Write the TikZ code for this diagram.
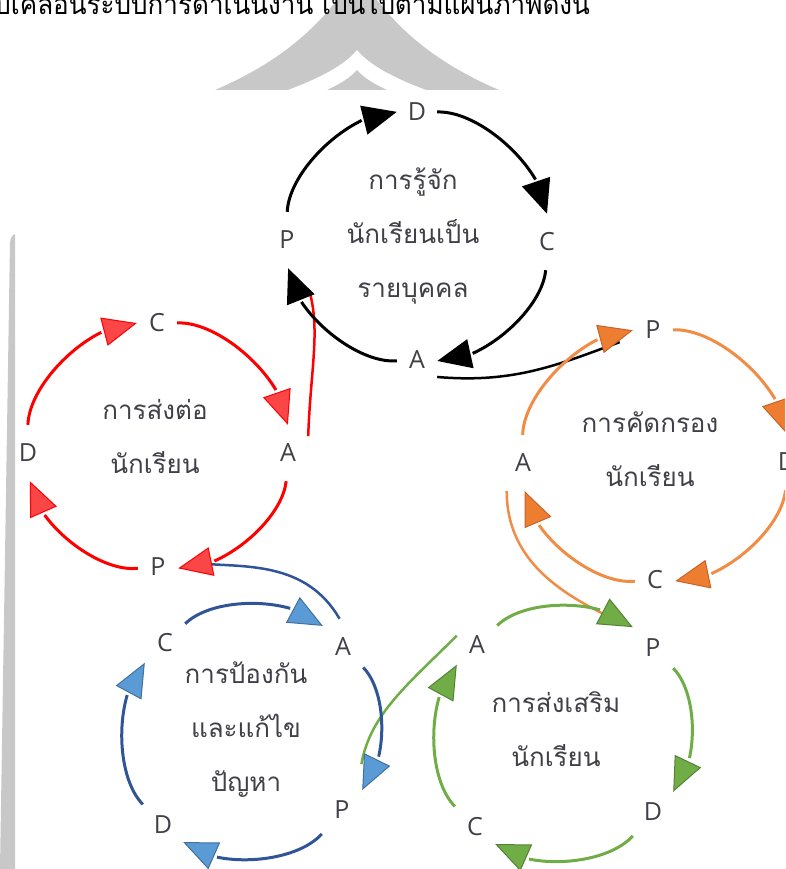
\documentclass[tikz,border=0pt]{standalone}
\usepackage{fontspec}
\usetikzlibrary{arrows.meta,bending}
\newfontfamily\thaifont[Script=Thai]{Loma}
\newfontfamily\pdcafont{Open Sans}
\definecolor{txtgray}{RGB}{64,64,72}
\definecolor{markgray}{RGB}{200,200,200}
\definecolor{redline}{RGB}{255,0,0}
\definecolor{redfill}{RGB}{250,70,70}
\definecolor{orgline}{RGB}{240,140,70}
\definecolor{orgfill}{RGB}{237,125,49}
\definecolor{orgedge}{RGB}{200,100,40}
\definecolor{grnline}{RGB}{112,173,71}
\definecolor{grnfill}{RGB}{112,173,71}
\definecolor{grnedge}{RGB}{84,130,53}
\definecolor{bluline}{RGB}{47,85,151}
\definecolor{blufill}{RGB}{91,155,213}
\definecolor{bluedge}{RGB}{65,113,156}
\tikzset{
  stage/.style={rectangle, minimum width=40pt, minimum height=56pt, inner sep=0pt,
    text=txtgray, font=\pdcafont\fontsize{25}{25}\selectfont},
  topic/.style={align=center, text=txtgray,
    font=\thaifont\fontsize{26}{54}\selectfont},
  turn/.style={bend left=45, looseness=0.75},
  kcyc/.style={line width=3pt, draw=black, -{Triangle[length=34pt,width=29pt]}},
  rcyc/.style={line width=3pt, draw=redline,
    -{Triangle[length=34pt,width=29pt,fill=redfill,line width=1pt]}},
  ocyc/.style={line width=3pt, draw=orgline,
    -{Triangle[length=34pt,width=29pt,color=orgedge,fill=orgfill,line width=1pt]}},
  gcyc/.style={line width=3pt, draw=grnline,
    -{Triangle[length=34pt,width=29pt,color=grnedge,fill=grnfill,line width=1pt]}},
  vcyc/.style={line width=3pt, draw=bluline,
    -{Triangle[length=34pt,width=29pt,color=bluedge,fill=blufill,line width=1pt]}},
  link/.style={line width=2.5pt}
}
\begin{document}
\begin{tikzpicture}[x=1pt, y=1pt]
    \path[use as bounding box] (0,0) rectangle (785,-869);
    \clip (0,0) rectangle (785,-869);

    % Draw the watermark and the side bar
    \fill[markgray] (215,-90) .. controls (280,-62) and (325,-25) .. (357,30)
      .. controls (389,-25) and (434,-62) .. (499,-90) -- cycle;
    \fill[white] (288,-90) .. controls (320,-78) and (345,-65) .. (357,-50)
      .. controls (369,-65) and (394,-78) .. (426,-90) -- cycle;
    \fill[markgray] (327,-90) .. controls (340,-84) and (350,-78) .. (357,-70)
      .. controls (364,-78) and (374,-84) .. (387,-90) -- cycle;
    \fill[markgray] (10,-242) .. controls (10,-236) and (15,-234) .. (15,-234)
      -- (15,-869) -- (0,-869) -- cycle;

    % Intro line, cut at the top
    \node[anchor=base east, inner sep=0pt, text=black,
      font=\thaifont\fontsize{28}{30}\selectfont] (intro) at (590,-15)
      {\scalebox{0.93}[1]{ขับเคลื่อนระบบการดำเนินงาน เป็นไปตามแผนภาพดังนี้}};

    % Stage letters
    \node[stage] (knowD) at (417,-112) {D};
    \node[stage] (knowC) at (547,-242) {C};
    \node[stage] (knowA) at (417,-360) {A};
    \node[stage] (knowP) at (287,-240) {P};

    \node[stage] (refC) at (157,-323) {C};
    \node[stage] (refA) at (288,-453) {A};
    \node[stage] (refP) at (158,-567) {P};
    \node[stage] (refD) at (28,-453) {D};

    \node[stage] (scrP) at (653,-330) {P};
    \node[stage] (scrD) at (787,-462) {D};
    \node[stage] (scrC) at (655,-580) {C};
    \node[stage] (scrA) at (523,-463) {A};

    \node[stage] (preC) at (165,-643) {C};
    \node[stage] (preA) at (343,-647) {A};
    \node[stage] (preP) at (342,-810) {P};
    \node[stage] (preD) at (163,-825) {D};

    \node[stage] (proA) at (477,-645) {A};
    \node[stage] (proP) at (653,-648) {P};
    \node[stage] (proD) at (653,-812) {D};
    \node[stage] (proC) at (475,-827) {C};

    % Topics
    \node[topic] (know) at (413,-236) {การรู้จัก\\นักเรียนเป็น\\รายบุคคล};
    \node[topic] (refer) at (155,-436) {การส่งต่อ\\นักเรียน};
    \node[topic] (screen) at (650,-449) {การคัดกรอง\\นักเรียน};
    \node[topic] (prevent) at (246,-730) {การป้องกัน\\และแก้ไข\\ปัญหา};
    \node[topic] (promote) at (556,-729) {การส่งเสริม\\นักเรียน};

    % Links between the cycles
    \draw[link, black, shorten >=14pt] (knowA.-40) to[out=-5, in=200] (scrP.200);
    \draw[link, orgline, shorten >=14pt] (scrA.-120) to[out=-90, in=155] (proP.135);
    \draw[link, grnline, shorten >=18pt] (proA.155) to[out=-135, in=80] (preP.60);
    \draw[link, bluline, shorten >=22pt] (preA.97) to[out=120, in=-5] (refP.15);
    \draw[link, redline, shorten >=25pt] (refA.40) to[out=88, in=-75] (knowP.-60);

    % Cycle arrows
    \draw[kcyc] (knowP) to[turn] (knowD);
    \draw[kcyc] (knowD) to[turn] (knowC);
    \draw[kcyc] (knowC) to[turn] (knowA);
    \draw[kcyc] (knowA) to[turn] (knowP);

    \draw[rcyc] (refP) to[turn] (refD);
    \draw[rcyc] (refD) to[turn] (refC);
    \draw[rcyc] (refC) to[turn] (refA);
    \draw[rcyc] (refA) to[turn] (refP);

    \draw[ocyc] (scrP) to[turn] (scrD);
    \draw[ocyc] (scrD) to[turn] (scrC);
    \draw[ocyc] (scrC) to[turn] (scrA);
    \draw[ocyc] (scrA) to[turn] (scrP);

    \draw[vcyc] (preC) to[turn] (preA);
    \draw[vcyc] (preA) to[turn] (preP);
    \draw[vcyc] (preP) to[turn] (preD);
    \draw[vcyc] (preD) to[turn] (preC);

    \draw[gcyc] (proA) to[turn] (proP);
    \draw[gcyc] (proP) to[turn] (proD);
    \draw[gcyc] (proD) to[turn] (proC);
    \draw[gcyc] (proC) to[turn] (proA);
\end{tikzpicture}
\end{document}
